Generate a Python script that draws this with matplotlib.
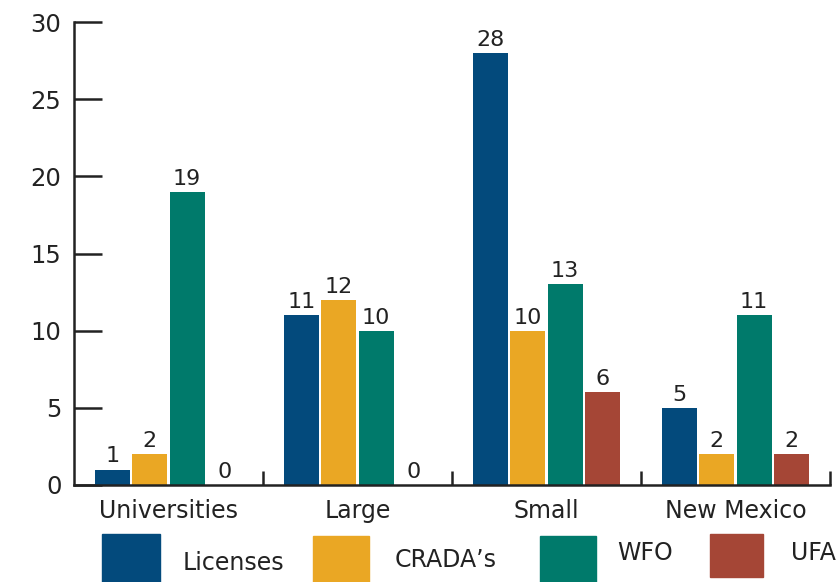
import matplotlib
matplotlib.use("Agg")
import matplotlib.pyplot as plt
import numpy as np
from matplotlib.patches import Rectangle

categories = ["Universities", "Large", "Small", "New Mexico"]
series_names = ["Licenses", "CRADA\u2019s", "WFO", "UFA"]
licenses = [1, 11, 28, 5]
cradas = [2, 12, 10, 2]
wfo = [19, 10, 13, 11]
ufa = [0, 0, 6, 2]
yticks = [0, 5, 10, 15, 20, 25, 30]

colors = ["#034A7C", "#EAA724", "#007A6B", "#A54636"]
series = [licenses, cradas, wfo, ufa]

plt.rcParams['font.family'] = ['DejaVu Sans']
fig = plt.figure(figsize=(8.39, 5.82), dpi=100)
ax = fig.add_axes([74/839, 1-485/582, (830-74)/839, (485-22)/582])

x = np.arange(len(categories))
slot = 0.197
bw = 0.184
offs = (np.arange(4) - 1.5) * slot
for i, (vals, c) in enumerate(zip(series, colors)):
    xs = x + offs[i]
    ax.bar(xs, vals, width=bw, color=c, zorder=2)
    for xi, v in zip(xs, vals):
        ax.text(xi, v + 0.2, str(v), ha='center', va='bottom', fontsize=16, color='#222222')

ax.set_xlim(-0.5, 3.5)
ax.set_ylim(0, 30)
ax.set_yticks(yticks)
ax.set_yticklabels([str(t) for t in yticks], fontsize=17.5, color='#222222')
ax.tick_params(axis='y', direction='in', length=20, width=1.8, pad=9, color='#222222')
ax.set_xticks(x)
ax.set_xticklabels(categories, fontsize=17, color='#222222')
ax.tick_params(axis='x', which='major', length=0, pad=10)
ax.set_xticks(np.arange(0.5, 4.0, 1.0), minor=True)
ax.tick_params(axis='x', which='minor', direction='in', length=10, width=1.8, color='#222222')
for s in ['top', 'right']:
    ax.spines[s].set_visible(False)
for s in ['left', 'bottom']:
    ax.spines[s].set_linewidth(1.8)
    ax.spines[s].set_color('#222222')

# legend
W, H = 839, 582
boxes = [(102, 534, 58, 48), (313, 536, 56, 46), (540, 536, 56, 46), (710, 534, 53, 43)]
texts = [(183, 563), (395, 560), (617, 553), (791, 553)]
for (bx, by, bw_, bh), (tx, ty), name, c in zip(boxes, texts, series_names, colors):
    fig.add_artist(Rectangle((bx/W, 1-(by+bh)/H), bw_/W, bh/H, transform=fig.transFigure, color=c))
    fig.text(tx/W, 1-ty/H, name, ha='left', va='center', fontsize=17, color='#222222')

fig.savefig("out.png", dpi=100)
